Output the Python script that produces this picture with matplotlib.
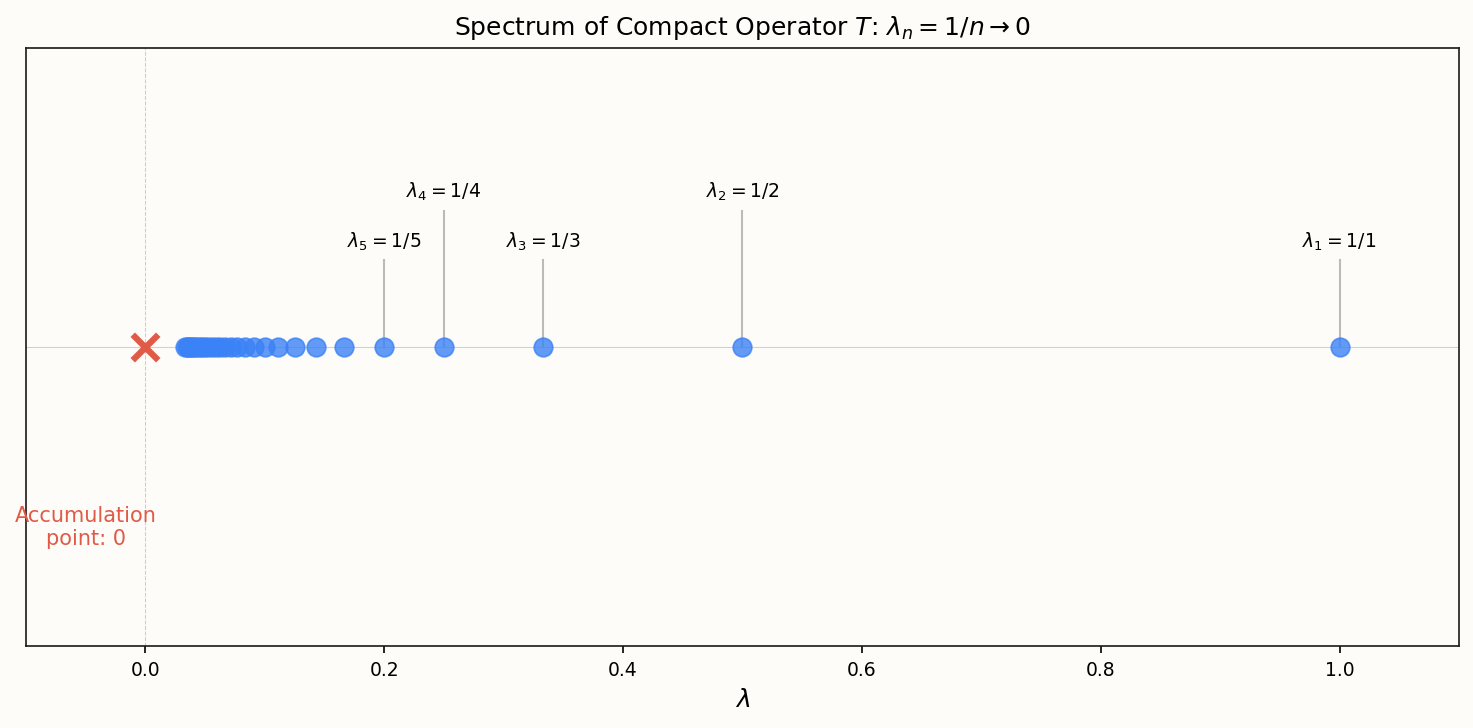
import numpy as np
import matplotlib
matplotlib.use("Agg")
import matplotlib.pyplot as plt

n_values = np.arange(1, 31)
eigenvalues = 1.0 / n_values
labeled_n = [1, 2, 3, 4, 5]
label_heights = [0.29, 0.455, 0.29, 0.455, 0.29]
accum_point = 0.0

bg = "#fdfcf9"
W, H = 1473, 728
dpi = 150
fig = plt.figure(figsize=(W / dpi, H / dpi), dpi=dpi, facecolor=bg)
ax = fig.add_axes([26/W, 1 - 646/H, (1459-26)/W, (646-48)/H])
ax.set_facecolor(bg)

ax.axhline(0, color="#d0d0d0", lw=0.5, zorder=0)
ax.axvline(0, color="#cccccc", lw=0.5, ls="--", zorder=0)

ax.scatter(eigenvalues, np.zeros_like(eigenvalues), s=80, color="#3b82f6",
           alpha=0.8, zorder=3, edgecolors="#3b82f6", linewidths=0.8)
ax.scatter([accum_point], [0], marker="x", s=150, color="#e05a47", linewidths=3, zorder=4)

for n, h in zip(labeled_n, label_heights):
    x = 1.0 / n
    ax.plot([x, x], [0, h], color="#bbbbbb", lw=1, zorder=2)
    ax.text(x, h + 0.025, rf"$\lambda_{n} = 1/{n}$", ha="center", va="bottom", fontsize=9)

ax.text(-0.05, -0.605, "Accumulation\npoint: 0", color="#e05a47", fontsize=10,
        ha="center", va="center")

for sp in ax.spines.values():
    sp.set_color("#1a1a1a")
ax.set_xlim(-0.1, 1.1)
ax.set_ylim(-1, 1)
ax.set_yticks([])
ax.tick_params(axis="x", labelsize=9)
ax.set_xlabel(r"$\lambda$", fontsize=12)
ax.set_title(r"Spectrum of Compact Operator $T$: $\lambda_n = 1/n \to 0$", fontsize=12)

fig.savefig("out.png", dpi=dpi, facecolor=bg)
